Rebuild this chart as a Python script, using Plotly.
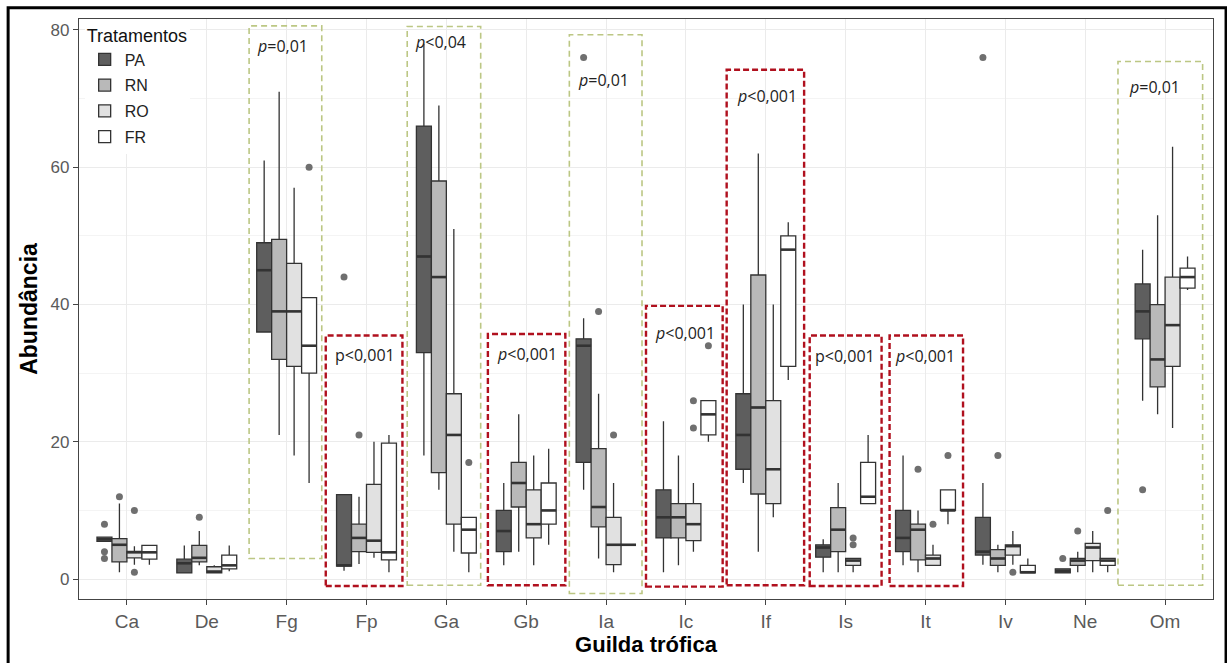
import plotly.graph_objects as go

# ---------------- data ----------------
categories = ["Ca", "De", "Fg", "Fp", "Ga", "Gb", "Ia", "Ic", "If", "Is", "It", "Iv", "Ne", "Om"]
treatments = ["PA", "RN", "RO", "FR"]

# box statistics per treatment (one value per category)
PA_lo  = [5.5, 0.9, 36, 1.2, 18, 2, 13, 1, 14, 1, 2, 2.1, 0.9, 26]
PA_q1  = [5.5, 0.9, 36, 1.9, 33, 4, 17, 6, 16, 3.2, 4, 3.5, 0.9, 35]
PA_med = [5.8, 2.3, 45, 2.0, 47, 7, 34, 9, 21, 4.6, 6, 4, 1.15, 39]
PA_q3  = [6.1, 2.9, 49, 12.3, 66, 10, 35, 13, 27, 5, 10, 9, 1.5, 43]
PA_hi  = [6.1, 4.9, 61, 12.3, 78, 14, 38, 23, 40, 5.8, 18, 14, 1.5, 48]

RN_lo  = [1, 2, 21, 2.2, 13, 4, 3, 2, 4, 1, 1, 1, 1, 24]
RN_q1  = [2.5, 2.5, 32, 4, 15.5, 10.5, 7.6, 6, 12.4, 4, 2.8, 2, 2, 28]
RN_med = [5, 3.1, 39, 6, 44, 14, 10.5, 9, 25, 7.2, 7.2, 3, 2.7, 32]
RN_q3  = [5.9, 4.9, 49.5, 8, 58, 17, 19, 11, 44.3, 10.4, 8, 4.3, 3, 40]
RN_hi  = [11, 7, 71, 12, 69, 24, 27, 18, 62, 14, 10, 5, 4, 53]

RO_lo  = [2.1, 0.9, 18, 3.1, 4, 2, 1, 4, 9, 1, 2, 2.1, 1, 22]
RO_q1  = [3.1, 0.9, 31, 3.9, 8, 6, 2.1, 5.6, 11, 2, 2, 3.5, 2.7, 31]
RO_med = [3.9, 1.1, 39, 5.6, 21, 8, 5, 8, 16, 2.7, 3, 4.8, 4.6, 37]
RO_q3  = [4.05, 1.8, 46, 13.8, 27, 13, 9, 11, 26, 3, 3.5, 5, 5.2, 44]
RO_hi  = [4.8, 2, 57, 20, 51, 18, 14, 14, 40, 3, 5, 7, 7, 63]

FR_lo  = [2.1, 1.15, 14, 1, 1, 5, 5, 20, 29, 11, 8, 0.9, 1, 42.1]
FR_q1  = [2.9, 1.5, 30, 2.8, 3.8, 8, 5, 21, 31, 11, 10, 0.9, 2, 42.4]
FR_med = [3.9, 2.0, 34, 3.9, 7.2, 10, 5, 24, 48, 12, 10, 1, 2.7, 44]
FR_q3  = [4.9, 3.5, 41, 19.8, 9, 14, 5, 26, 50, 17, 13, 2, 3, 45.3]
FR_hi  = [4.9, 4.9, 41, 21, 9, 19, 5, 26, 52, 21, 13, 3, 3, 47]

# outliers (category, value) per treatment
PA_out_cat = ["Ca", "Ca", "Ca", "Fp", "Ia", "Iv", "Ne", "Om"]
PA_out_val = [8, 4, 3, 44, 76, 76, 3, 13]
RN_out_cat = ["Ca", "De", "Fp", "Ia", "It", "Iv", "Ne"]
RN_out_val = [12, 9, 21, 39, 16, 18, 7]
RO_out_cat = ["Ca", "Ca", "Ia", "Ic", "Ic", "Is", "Is", "It", "Iv"]
RO_out_val = [10, 1, 21, 26, 22, 6, 5, 8, 1]
FR_out_cat = ["Fg", "Ga", "Ic", "It", "Ne"]
FR_out_val = [60, 17, 34, 18, 10]

# p-value annotation boxes
ann_cat   = ["Fg", "Fp", "Ga", "Gb", "Ia", "Ic", "If", "Is", "It", "Om"]
ann_label = ["=0,01", "<0,001", "<0,04", "<0,001", "=0,01", "<0,001", "<0,001", "<0,001", "<0,001", "=0,01"]
ann_ital  = [True, False, True, True, True, True, True, False, True, True]
ann_sig   = [False, True, False, True, False, True, True, True, True, False]
ann_x0    = [2.53, 3.49, 4.51, 5.52, 6.54, 7.50, 8.51, 9.55, 10.55, 13.41]
ann_x1    = [3.44, 4.45, 5.43, 6.49, 7.45, 8.46, 9.48, 10.45, 11.47, 14.47]
ann_top   = [80.6, 35.5, 80.5, 35.7, 79.3, 39.8, 74.2, 35.5, 35.5, 75.4]
ann_bot   = [3.0, -1.0, -0.9, -0.9, -2.1, -1.1, -0.9, -1.0, -1.0, -0.9]
ann_tx    = [2.60, 3.58, 4.58, 5.61, 6.62, 7.59, 8.61, 9.59, 10.59, 13.52]
ann_ty    = [77.7, 32.7, 78.2, 32.8, 72.7, 35.8, 70.4, 32.5, 32.5, 71.7]

# ---------------- styling ----------------
fills = {"PA": "#5e5e5e", "RN": "#b9b9b9", "RO": "#e1e1e1", "FR": "#ffffff"}
stats = {
    "PA": (PA_lo, PA_q1, PA_med, PA_q3, PA_hi, PA_out_cat, PA_out_val),
    "RN": (RN_lo, RN_q1, RN_med, RN_q3, RN_hi, RN_out_cat, RN_out_val),
    "RO": (RO_lo, RO_q1, RO_med, RO_q3, RO_hi, RO_out_cat, RO_out_val),
    "FR": (FR_lo, FR_q1, FR_med, FR_q3, FR_hi, FR_out_cat, FR_out_val),
}
dodge = 0.75
bw = dodge / len(treatments)
offsets = [(-dodge / 2 + bw / 2) + k * bw for k in range(len(treatments))]
cat_pos = {c: i + 1 for i, c in enumerate(categories)}
line_col = "#333333"

fig = go.Figure()

for k, t in enumerate(treatments):
    lo, q1, med, q3, hi, oc, ov = stats[t]
    xs = [cat_pos[c] + offsets[k] for c in categories]
    fig.add_trace(go.Box(
        x=xs, q1=q1, median=med, q3=q3, lowerfence=lo, upperfence=hi,
        width=bw, name=t, legendgroup=t, boxpoints=False, whiskerwidth=0,
        fillcolor=fills[t], line=dict(color=line_col, width=1.3),
        hoverinfo="skip",
    ))

# thicker median lines
for k, t in enumerate(treatments):
    lo, q1, med, q3, hi, oc, ov = stats[t]
    mx, my = [], []
    for c, m in zip(categories, med):
        p = cat_pos[c] + offsets[k]
        mx += [p - bw / 2, p + bw / 2, None]
        my += [m, m, None]
    fig.add_trace(go.Scatter(x=mx, y=my, mode="lines", line=dict(color=line_col, width=2.6),
                             showlegend=False, hoverinfo="skip"))

# outliers
for k, t in enumerate(treatments):
    lo, q1, med, q3, hi, oc, ov = stats[t]
    fig.add_trace(go.Scatter(
        x=[cat_pos[c] + offsets[k] for c in oc], y=ov, mode="markers",
        marker=dict(color="#6f6f6f", size=7), showlegend=False, hoverinfo="skip"))

# p-value boxes and labels
for c, lab, it, sig, x0, x1, top, bot, tx, ty in zip(ann_cat, ann_label, ann_ital, ann_sig,
                                                     ann_x0, ann_x1, ann_top, ann_bot, ann_tx, ann_ty):
    if sig:
        ln = dict(color="#b0101e", width=2.4, dash="6px,3px")
    else:
        ln = dict(color="#bcc784", width=1.6, dash="6px,4px")
    fig.add_shape(type="rect", xref="x", yref="y", x0=x0, x1=x1, y0=bot, y1=top,
                  line=ln, fillcolor="rgba(0,0,0,0)", layer="above")
    txt = ("<i>p</i>" if it else "p") + lab
    fig.add_annotation(x=tx, y=ty, xref="x", yref="y", text=txt, showarrow=False,
                       xanchor="left", yanchor="middle",
                       font=dict(family="Open Sans", size=16, color="#222222"))

# outer black frame (bottom edge falls outside the picture)
fig.add_shape(type="rect", xref="paper", yref="paper", x0=-0.0625, x1=1.0115, y0=-0.2, y1=1.0195,
              line=dict(color="black", width=3), fillcolor="rgba(0,0,0,0)", layer="above")

fig.update_layout(
    width=1227, height=663,
    margin=dict(l=79, r=14, t=19, b=60),
    paper_bgcolor="white", plot_bgcolor="white",
    boxmode="overlay",
    font=dict(family="Liberation Sans", color="#000"),
    legend=dict(
        title=dict(text="Tratamentos", font=dict(size=18, color="#111")),
        font=dict(size=16, color="#222"),
        x=0.005, y=1.0, xanchor="left", yanchor="top",
        bgcolor="white", tracegroupgap=2, itemwidth=30,
    ),
    xaxis=dict(
        range=[0.4, 14.6], tickmode="array", tickvals=list(range(1, len(categories) + 1)),
        ticktext=categories, showgrid=True, gridcolor="#ebebeb", gridwidth=1,
        zeroline=False, showline=True, mirror=True, linecolor="#444", linewidth=1.3,
        ticks="outside", ticklen=5, tickcolor="#444", tickwidth=1.3,
        tickfont=dict(size=19, color="#5a5a5a"),
        title=dict(text="<b>Guilda trófica</b>", font=dict(size=22, color="#000"), standoff=4),
    ),
    yaxis=dict(
        range=[-2.9, 81.6], tickmode="array", tickvals=[0, 20, 40, 60, 80],
        showgrid=True, gridcolor="#ebebeb", gridwidth=1,
        minor=dict(tickvals=[10, 30, 50, 70], showgrid=True, gridcolor="#f4f4f4", gridwidth=1),
        zeroline=False, showline=True, mirror=True, linecolor="#444", linewidth=1.3,
        ticks="outside", ticklen=5, tickcolor="#444", tickwidth=1.3,
        tickfont=dict(size=17, color="#5a5a5a"),
        title=dict(text="<b>Abundância</b>", font=dict(size=23, color="#000"), standoff=6),
    ),
)

fig.write_html("out.html")
